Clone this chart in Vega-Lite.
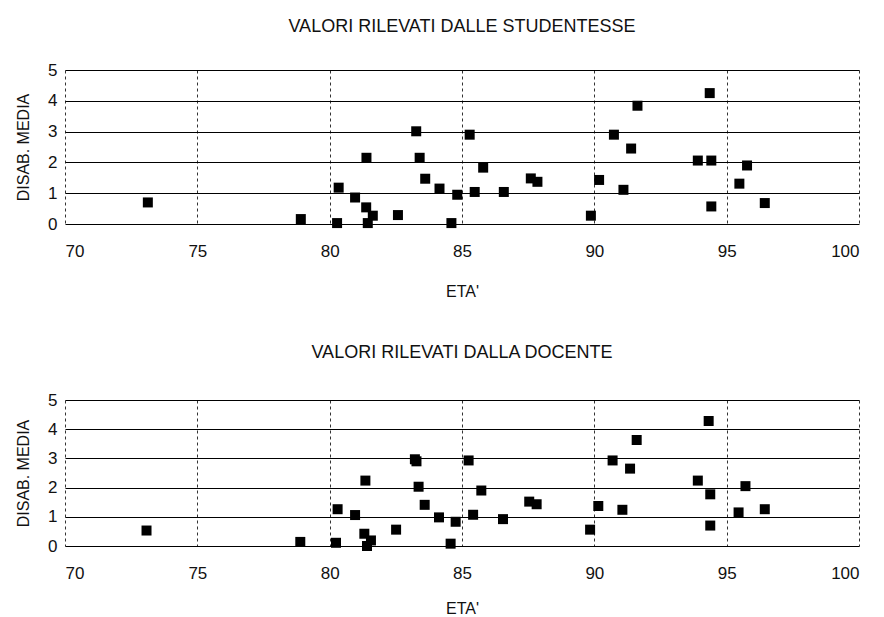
{
  "$schema": "https://vega.github.io/schema/vega-lite/v6.json",
  "background": "white",
  "padding": {"left": 15, "top": 18, "right": 10, "bottom": 0},
  "spacing": 45,
  "datasets": {
    "studentesse": [
      {"eta": 73.13, "disab": 0.70}, {"eta": 78.91, "disab": 0.16}, {"eta": 80.28, "disab": 0.03},
      {"eta": 80.34, "disab": 1.18}, {"eta": 80.96, "disab": 0.86}, {"eta": 81.38, "disab": 0.54},
      {"eta": 81.63, "disab": 0.27}, {"eta": 81.44, "disab": 0.03}, {"eta": 81.39, "disab": 2.15},
      {"eta": 82.58, "disab": 0.29}, {"eta": 83.27, "disab": 3.01}, {"eta": 83.40, "disab": 2.15},
      {"eta": 83.61, "disab": 1.47}, {"eta": 84.15, "disab": 1.15}, {"eta": 84.82, "disab": 0.95},
      {"eta": 84.60, "disab": 0.03}, {"eta": 85.29, "disab": 2.90}, {"eta": 85.48, "disab": 1.04},
      {"eta": 85.80, "disab": 1.83}, {"eta": 86.58, "disab": 1.04}, {"eta": 87.60, "disab": 1.48},
      {"eta": 87.85, "disab": 1.37}, {"eta": 89.87, "disab": 0.27}, {"eta": 90.18, "disab": 1.43},
      {"eta": 90.74, "disab": 2.90}, {"eta": 91.10, "disab": 1.11}, {"eta": 91.39, "disab": 2.45},
      {"eta": 91.63, "disab": 3.84}, {"eta": 93.91, "disab": 2.06}, {"eta": 94.42, "disab": 2.06},
      {"eta": 94.36, "disab": 4.25}, {"eta": 94.42, "disab": 0.57}, {"eta": 95.48, "disab": 1.31},
      {"eta": 95.77, "disab": 1.90}, {"eta": 96.44, "disab": 0.68}
    ],
    "docente": [
      {"eta": 73.08, "disab": 0.53}, {"eta": 78.89, "disab": 0.14}, {"eta": 80.24, "disab": 0.11},
      {"eta": 80.30, "disab": 1.26}, {"eta": 80.96, "disab": 1.06}, {"eta": 81.31, "disab": 0.42},
      {"eta": 81.56, "disab": 0.19}, {"eta": 81.41, "disab": 0.00}, {"eta": 81.35, "disab": 2.24},
      {"eta": 82.51, "disab": 0.56}, {"eta": 83.22, "disab": 2.97}, {"eta": 83.28, "disab": 2.90},
      {"eta": 83.36, "disab": 2.03}, {"eta": 83.59, "disab": 1.41}, {"eta": 84.13, "disab": 0.98},
      {"eta": 84.76, "disab": 0.83}, {"eta": 84.57, "disab": 0.08}, {"eta": 85.25, "disab": 2.93},
      {"eta": 85.42, "disab": 1.07}, {"eta": 85.73, "disab": 1.90}, {"eta": 86.55, "disab": 0.92},
      {"eta": 87.54, "disab": 1.52}, {"eta": 87.82, "disab": 1.43}, {"eta": 89.84, "disab": 0.56},
      {"eta": 90.15, "disab": 1.37}, {"eta": 90.69, "disab": 2.93}, {"eta": 91.06, "disab": 1.24},
      {"eta": 91.35, "disab": 2.65}, {"eta": 91.60, "disab": 3.63}, {"eta": 93.91, "disab": 2.24},
      {"eta": 94.38, "disab": 1.77}, {"eta": 94.32, "disab": 4.28}, {"eta": 94.38, "disab": 0.70},
      {"eta": 95.45, "disab": 1.15}, {"eta": 95.71, "disab": 2.05}, {"eta": 96.44, "disab": 1.26}
    ]
  },
  "config": {
    "font": "Liberation Sans",
    "view": {"stroke": null},
    "title": {"fontSize": 18, "fontWeight": "normal", "color": "#111", "anchor": "middle"},
    "axis": {
      "domain": false,
      "ticks": false,
      "labelFontSize": 17,
      "labelColor": "#111",
      "titleFontSize": 16,
      "titleFontWeight": "normal",
      "titleColor": "#111"
    },
    "axisX": {
      "gridColor": "#333",
      "gridDash": [3, 3],
      "gridWidth": 1,
      "gridOpacity": 1,
      "labelPadding": 19
    },
    "axisY": {
      "gridColor": "#000",
      "gridWidth": 1.2,
      "gridOpacity": 1,
      "labelPadding": 8,
      "titlePadding": 16
    }
  },
  "vconcat": [
    {
      "title": {"text": "VALORI RILEVATI DALLE STUDENTESSE", "offset": 25},
      "data": {"name": "studentesse"},
      "width": 794,
      "height": 154,
      "mark": {"type": "point", "shape": "square", "filled": true, "color": "#000", "opacity": 1, "size": 100},
      "encoding": {
        "x": {"field": "eta", "type": "quantitative", "title": "ETA'",
              "scale": {"domain": [70, 100], "nice": false, "zero": false},
              "axis": {"values": [70, 75, 80, 85, 90, 95, 100], "titlePadding": 24}},
        "y": {"field": "disab", "type": "quantitative", "title": "DISAB. MEDIA",
              "scale": {"domain": [0, 5], "nice": false},
              "axis": {"values": [0, 1, 2, 3, 4, 5]}}
      }
    },
    {
      "title": {"text": "VALORI RILEVATI DALLA DOCENTE", "offset": 29},
      "data": {"name": "docente"},
      "width": 794,
      "height": 146,
      "mark": {"type": "point", "shape": "square", "filled": true, "color": "#000", "opacity": 1, "size": 100},
      "encoding": {
        "x": {"field": "eta", "type": "quantitative", "title": "ETA'",
              "scale": {"domain": [70, 100], "nice": false, "zero": false},
              "axis": {"values": [70, 75, 80, 85, 90, 95, 100], "titlePadding": 19}},
        "y": {"field": "disab", "type": "quantitative", "title": "DISAB. MEDIA",
              "scale": {"domain": [0, 5], "nice": false},
              "axis": {"values": [0, 1, 2, 3, 4, 5]}}
      }
    }
  ]
}
